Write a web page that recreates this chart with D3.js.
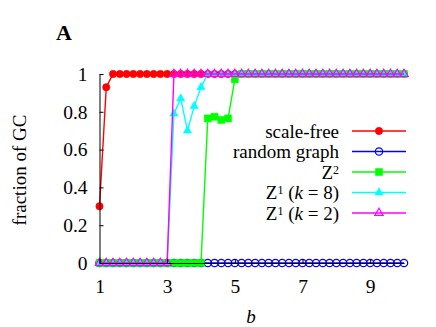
<!DOCTYPE html>
<html>
<head>
<meta charset="utf-8">
<script src="https://cdn.jsdelivr.net/npm/d3@7/dist/d3.min.js"></script>
<style>
  html, body { margin: 0; padding: 0; background: #fff; }
  svg { display: block; font-family: "Liberation Serif", "Times New Roman", serif; }
</style>
</head>
<body>
<div id="chart"></div>
<script>
// b values (x axis)
var bValues = [1.0, 1.2, 1.4, 1.6, 1.8, 2.0, 2.2, 2.4, 2.6, 2.8,
               3.0, 3.2, 3.4, 3.6, 3.8, 4.0, 4.2, 4.4, 4.6, 4.8,
               5.0, 5.2, 5.4, 5.6, 5.8, 6.0, 6.2, 6.4, 6.6, 6.8,
               7.0, 7.2, 7.4, 7.6, 7.8, 8.0, 8.2, 8.4, 8.6, 8.8,
               9.0, 9.2, 9.4, 9.6, 9.8, 10.0];

var scaleFree = [0.30, 0.93, 1, 1, 1, 1, 1, 1, 1, 1,
                 1, 1, 1, 1, 1, 1, 1, 1, 1, 1,
                 1, 1, 1, 1, 1, 1, 1, 1, 1, 1,
                 1, 1, 1, 1, 1, 1, 1, 1, 1, 1,
                 1, 1, 1, 1, 1, 1];

var randomGraph = [0, 0, 0, 0, 0, 0, 0, 0, 0, 0,
                   0, 0, 0, 0, 0, 0, 0, 0, 0, 0,
                   0, 0, 0, 0, 0, 0, 0, 0, 0, 0,
                   0, 0, 0, 0, 0, 0, 0, 0, 0, 0,
                   0, 0, 0, 0, 0, 0];

var z2 = [0, 0, 0, 0, 0, 0, 0, 0, 0, 0,
          0, 0, 0, 0, 0, 0, 0.765, 0.774, 0.757, 0.765,
          0.972, 1, 1, 1, 1, 1, 1, 1, 1, 1,
          1, 1, 1, 1, 1, 1, 1, 1, 1, 1,
          1, 1, 1, 1, 1, 1];

var z1k8 = [0, 0, 0, 0, 0, 0, 0, 0, 0, 0,
            0, 0.79, 0.87, 0.70, 0.83, 0.93, 1, 1, 1, 1,
            1, 1, 1, 1, 1, 1, 1, 1, 1, 1,
            1, 1, 1, 1, 1, 1, 1, 1, 1, 1,
            1, 1, 1, 1, 1, 1];

var z1k2 = [0, 0, 0, 0, 0, 0, 0, 0, 0, 0,
            0, 1, 1, 1, 1, 1, 1, 1, 1, 1,
            1, 1, 1, 1, 1, 1, 1, 1, 1, 1,
            1, 1, 1, 1, 1, 1, 1, 1, 1, 1,
            1, 1, 1, 1, 1, 1];

var xTicks = [1, 3, 5, 7, 9];
var yTicks = [0, 0.2, 0.4, 0.6, 0.8, 1];

// series: values + label parts (sup / italic bits for the legend)
var series = [
    { values: scaleFree,   label: [['scale-free']],                                   color: '#ff0000', marker: 'circleFilled' },
    { values: randomGraph, label: [['random graph']],                                 color: '#0000ff', marker: 'circleOpen' },
    { values: z2,          label: [['Z'], ['2', 'sup']],                              color: '#00ff00', marker: 'square' },
    { values: z1k8,        label: [['Z'], ['1', 'sup'], [' ('], ['k', 'it'], [' = 8)']], color: '#00ffff', marker: 'triFilled' },
    { values: z1k2,        label: [['Z'], ['1', 'sup'], [' ('], ['k', 'it'], [' = 2)']], color: '#ff00ff', marker: 'triOpen' }
];

var W = 436, H = 327;
var svg = d3.select('#chart').append('svg').attr('width', W).attr('height', H);

var x = d3.scaleLinear().domain([1, 10]).range([99.5, 404]);
var y = d3.scaleLinear().domain([0, 1]).range([263, 74]);

var line = d3.line()
    .x(function (d) { return x(d[0]); })
    .y(function (d) { return y(d[1]); });

function drawMarker(sel, type, color) {
    var sym;
    if (type === 'circleFilled' || type === 'circleOpen') sym = d3.symbol(d3.symbolCircle, 43);
    else if (type === 'square') sym = d3.symbol(d3.symbolSquare, 50);
    else sym = d3.symbol(d3.symbolTriangle, 30);
    var filled = (type === 'circleFilled' || type === 'square' || type === 'triFilled');
    sel.attr('d', sym)
        .attr('fill', filled ? color : 'none')
        .attr('stroke', color)
        .attr('stroke-width', filled ? 0.5 : 1.2);
}

var plot = svg.append('g');
series.forEach(function (s) {
    var pts = bValues.map(function (b, i) { return [b, s.values[i]]; });
    var g = plot.append('g');
    g.append('path')
        .datum(pts)
        .attr('fill', 'none')
        .attr('stroke', s.color)
        .attr('stroke-width', 1.4)
        .attr('d', line);
    g.selectAll('path.pt')
        .data(pts)
        .enter().append('path')
        .attr('class', 'pt')
        .attr('transform', function (d) { return 'translate(' + x(d[0]) + ',' + y(d[1]) + ')'; })
        .call(drawMarker, s.marker, s.color);
});

// axes (border in front)
var xAxis = svg.append('g')
    .attr('transform', 'translate(0,' + y(0) + ')')
    .call(d3.axisBottom(x).tickValues(xTicks).tickSizeInner(-4).tickSizeOuter(0).tickPadding(16)
        .tickFormat(function (d) { return d; }));
var yAxis = svg.append('g')
    .attr('transform', 'translate(' + x(1) + ',0)')
    .call(d3.axisLeft(y).tickValues(yTicks).tickSizeInner(-4).tickSizeOuter(0).tickPadding(12)
        .tickFormat(function (d) { return d; }));

[xAxis, yAxis].forEach(function (ax) {
    ax.select('.domain').attr('stroke', '#000').attr('stroke-width', 1);
    ax.selectAll('.tick line').attr('stroke', '#000');
    ax.selectAll('.tick text')
        .attr('fill', '#000')
        .style('font-family', '"Liberation Serif", serif')
        .style('font-size', '19.5px');
});

// axis titles
svg.append('text')
    .attr('transform', 'translate(26,170) rotate(-90)')
    .attr('text-anchor', 'middle')
    .style('font-size', '19px')
    .text('fraction of GC');

svg.append('text')
    .attr('x', 251).attr('y', 323)
    .attr('text-anchor', 'middle')
    .style('font-size', '19px')
    .style('font-style', 'italic')
    .text('b');

svg.append('text')
    .attr('x', 56).attr('y', 40)
    .style('font-size', '22px')
    .style('font-weight', 'bold')
    .text('A');

// legend
var legend = svg.append('g');
series.forEach(function (s, i) {
    var cy = 131 + i * 20.5;
    var t = legend.append('text')
        .attr('x', 339).attr('y', cy + 6.5)
        .attr('text-anchor', 'end')
        .style('font-size', '19px');
    var raised = false;
    s.label.forEach(function (part) {
        var ts = t.append('tspan').text(part[0]);
        if (part[1] === 'sup') {
            ts.attr('dy', -5).style('font-size', '12px');
            raised = true;
        } else {
            if (raised) { ts.attr('dy', 5); raised = false; }
            if (part[1] === 'it') ts.style('font-style', 'italic');
        }
    });
    legend.append('line')
        .attr('x1', 352).attr('x2', 406)
        .attr('y1', cy).attr('y2', cy)
        .attr('stroke', s.color)
        .attr('stroke-width', 1.4);
    legend.append('path')
        .attr('transform', 'translate(379,' + cy + ')')
        .call(drawMarker, s.marker, s.color);
});
</script>
</body>
</html>
